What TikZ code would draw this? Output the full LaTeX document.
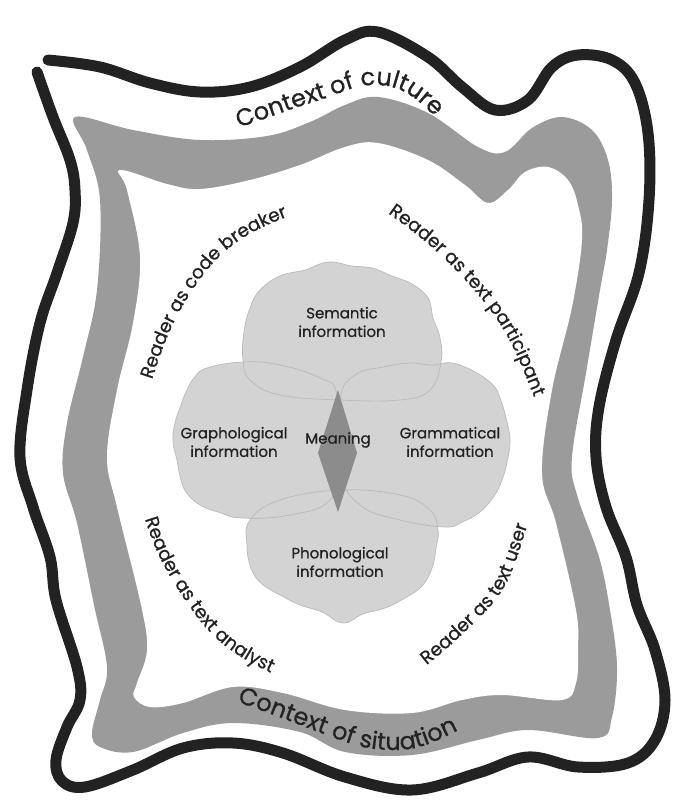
\documentclass[tikz,border=0pt]{standalone}
\usepackage{fontspec}
\setmainfont{Poppins}[FakeBold=0.7]
\usetikzlibrary{decorations.text}
\definecolor{ink}{HTML}{222222}
\definecolor{band}{HTML}{9B9B9B}
\definecolor{lobe}{HTML}{D3D3D3}
\definecolor{lobeline}{HTML}{BABABA}
\definecolor{core}{HTML}{8C8C8C}
\newcommand{\ctxsize}{\fontsize{24}{24}\selectfont}
\newcommand{\rdrsize}{\fontsize{18.5}{18.5}\selectfont}
\tikzset{
  outline/.style={draw=ink, line width=11pt, line cap=round, line join=round},
  lobeshape/.style={fill=lobe},
  lobeedge/.style={draw=lobeline, line width=0.7pt},
  pathtext/.style={decorate, decoration={text along path, text align=center, text color=ink}},
  label/.style={align=center, text=ink, font=\fontsize{15}{18.5}\selectfont, inner sep=0pt},
}
\begin{document}
\begin{tikzpicture}[x=1pt, y=1pt]
\useasboundingbox (0,0) rectangle (689,-805);
\fill[white] (0,0) rectangle (689,-805);

% black outer line
\draw[outline] plot[smooth, tension=0.6] coordinates {(37,-72) (53,-117) (70,-160) (75,-190) (73,-223) (57,-273) (40,-323) (27,-390) (20,-457) (33,-507) (50,-557) (56,-600) (77,-667) (80,-700) (67,-727) (56,-760) (62,-781) (85,-787) (133,-770) (183,-748) (233,-743) (283,-753) (345,-777) (412,-790) (478,-773) (528,-757) (578,-767) (628,-763) (655,-740) (665,-700) (655,-650) (637,-605) (626,-557) (606,-507) (596,-457) (599,-407) (616,-340) (639,-273) (649,-200) (648,-133) (635,-83) (612,-60) (578,-55) (552,-67) (528,-100) (495,-110) (462,-87) (428,-57) (378,-32) (345,-40) (300,-67) (250,-87) (200,-92) (150,-83) (100,-67) (48,-60)};

% gray band
\fill[band] plot[smooth cycle, tension=0.6] coordinates {(75,-117) (133,-130) (200,-140) (267,-136) (310,-122) (345,-105) (378,-97) (428,-113) (478,-147) (505,-152) (532,-128) (562,-117) (592,-130) (608,-160) (612,-200) (607,-250) (600,-290) (586,-373) (572,-457) (577,-495) (599,-557) (610,-610) (617,-667) (612,-717) (598,-738) (528,-730) (478,-740) (412,-755) (345,-752) (300,-732) (233,-723) (183,-733) (133,-752) (100,-747) (92,-733) (100,-700) (107,-667) (94,-605) (77,-523) (63,-473) (67,-423) (83,-357) (97,-290) (100,-200) (87,-150)};
\fill[white] plot[smooth cycle, tension=0.6] coordinates {(120,-170) (167,-184) (200,-189) (250,-180) (300,-165) (345,-147) (378,-143) (428,-160) (465,-185) (488,-203) (508,-190) (525,-172) (548,-167) (568,-180) (578,-205) (582,-240) (572,-307) (552,-390) (542,-473) (556,-523) (576,-610) (578,-650) (576,-683) (562,-700) (502,-695) (462,-700) (412,-713) (345,-710) (283,-693) (233,-687) (183,-703) (150,-707) (134,-697) (137,-683) (147,-650) (141,-605) (117,-507) (107,-457) (117,-390) (133,-323) (140,-257) (127,-190)};

% lobes
\def\lobetop{(243,-360) (244,-332) (250,-308) (260,-290) (280,-276) (305,-270) (320,-264) (333,-262) (352,-266) (372,-268) (392,-276) (412,-284) (428,-298) (433,-318) (440,-338) (441,-362) (430,-390) (400,-400) (340,-400) (280,-395) (250,-380)}
\def\lobeleft{(207,-368) (243,-362) (280,-365) (320,-378) (337,-395) (337,-460) (330,-500) (290,-515) (242,-518) (218,-512) (200,-505) (186,-492) (180,-476) (177,-460) (173,-442) (175,-423) (181,-405) (186,-392) (194,-378)}
\def\loberight{(383,-367) (410,-363) (432,-365) (452,-363) (475,-372) (493,-385) (500,-398) (506,-418) (510,-440) (507,-462) (502,-480) (494,-496) (480,-512) (462,-522) (445,-527) (400,-520) (360,-505) (340,-470) (340,-400) (355,-375)}
\def\lobebottom{(250,-520) (247,-545) (251,-568) (262,-584) (282,-596) (300,-605) (322,-612) (343,-623) (363,-614) (385,-608) (405,-598) (422,-586) (432,-568) (436,-548) (438,-530) (430,-510) (400,-495) (340,-490) (280,-500)}
\fill[lobeshape] plot[smooth cycle, tension=0.7] coordinates {\lobetop};
\fill[lobeshape] plot[smooth cycle, tension=0.7] coordinates {\lobeleft};
\fill[lobeshape] plot[smooth cycle, tension=0.7] coordinates {\loberight};
\fill[lobeshape] plot[smooth cycle, tension=0.7] coordinates {\lobebottom};
\draw[lobeedge] plot[smooth cycle, tension=0.7] coordinates {\lobetop};
\draw[lobeedge] plot[smooth cycle, tension=0.7] coordinates {\lobeleft};
\draw[lobeedge] plot[smooth cycle, tension=0.7] coordinates {\loberight};
\draw[lobeedge] plot[smooth cycle, tension=0.7] coordinates {\lobebottom};

% meaning core
\fill[core] (338,-390) -- (357,-453) -- (338,-512) -- (318,-453) -- cycle;

% inner labels
\node[label] (sem) at (342,-322) {Semantic\\information};
\node[label] (gra) at (234,-442) {Graphological\\information};
\node[label] (gram) at (450,-442) {Grammatical\\information};
\node[label] (pho) at (340,-562) {Phonological\\information};
\node[label] (mea) at (338,-440) {Meaning};

% context texts
\path[pathtext, decoration={text={|\ctxsize|Context of culture}}] (225,-132) to[out=17,in=197] (320,-100) to[out=17,in=180] (375,-85) to[out=0,in=135] (445,-127);
\path[pathtext, decoration={text={|\ctxsize|Context of situation}}] (225,-698) to[out=-18,in=160] (340,-740) to[out=-20,in=180] (395,-750) to[out=0,in=203] (470,-725);

% reader texts
\path[pathtext, decoration={text={|\rdrsize|Reader as code breaker}}] (148,-392) to[out=72,in=235] (198,-282) to[out=55,in=200] (300,-212);
\path[pathtext, decoration={text={|\rdrsize|Reader as text participant}}] (375,-204) to[out=-35,in=130] (480,-297) to[out=-50,in=112] (540,-412);
\path[pathtext, decoration={text={|\rdrsize|Reader as text analyst}}] (141,-505) to[out=-75,in=125] (192,-610) to[out=-55,in=155] (284,-679);
\path[pathtext, decoration={text={|\rdrsize|Reader as text user}}] (418,-672) to[out=38,in=225] (484,-613) to[out=45,in=250] (531,-515);
\end{tikzpicture}
\end{document}
